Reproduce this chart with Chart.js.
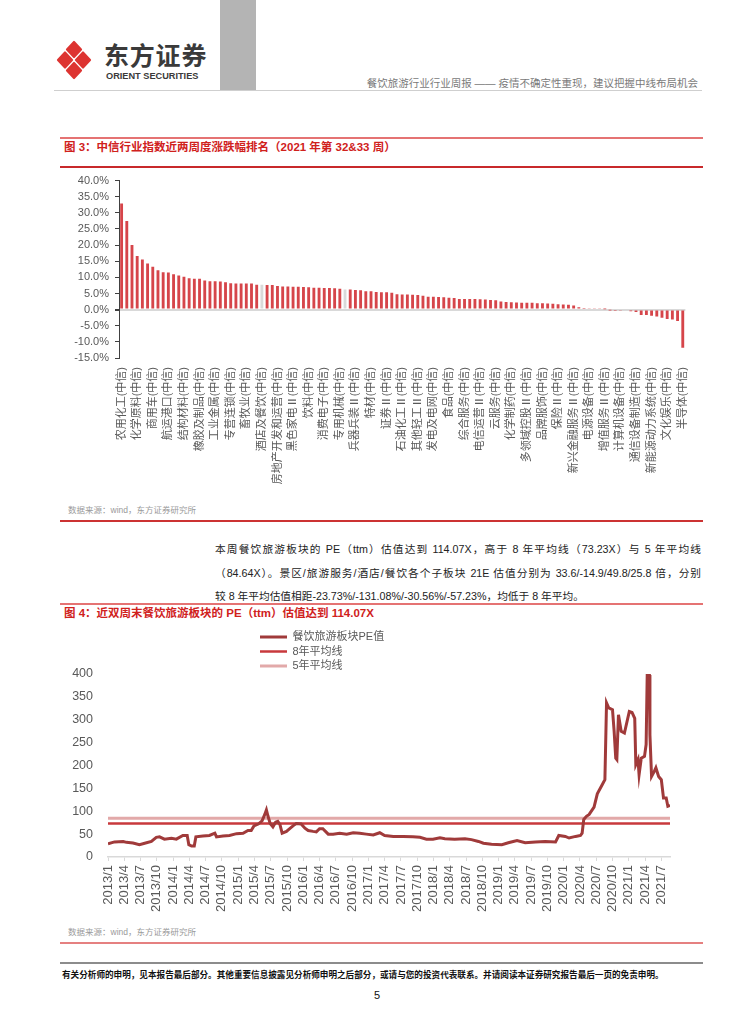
<!DOCTYPE html>
<html lang="zh-CN">
<head>
<meta charset="utf-8">
<title>餐饮旅游行业行业周报</title>
<script src="https://cdn.jsdelivr.net/npm/chart.js@4.4.1/dist/chart.umd.min.js"></script>
<style>
  html, body { margin: 0; padding: 0; background: #fff; }
  body { width: 754px; height: 1024px; position: relative; overflow: hidden;
         font-family: "Liberation Sans", "Noto Sans CJK SC", sans-serif; color: #222; }
  .abs { position: absolute; }
  .rule { position: absolute; left: 60px; width: 643px; }
  .title { position: absolute; left: 64px; font-size: 11.5px; font-weight: bold; color: #D0211C;
           white-space: nowrap; line-height: 16px; }
  .src { position: absolute; left: 68px; font-size: 8.5px; color: #9a9a9a; white-space: nowrap; line-height: 12px; }
  .para { position: absolute; left: 215px; top: 538px; width: 486px; font-size: 10.7px; line-height: 23.5px; color: #222; }
  .para div { text-align: justify; text-align-last: justify; }
  .para div.last { text-align-last: left; }
</style>
</head>
<body>

<!-- header -->
<svg class="abs" style="left:55px;top:39px" width="38" height="42" viewBox="0 0 38 42">
  <g fill="#DD3431" stroke="#DD3431" stroke-width="2.2" stroke-linejoin="round">
    <path d="M19 3 L26 10.5 L19 18 L12 10.5 Z"/>
    <path d="M28 13.5 L35 21 L28 28.5 L21 21 Z"/>
    <path d="M19 24 L26 31.5 L19 39 L12 31.5 Z"/>
    <path d="M10 13.5 L17 21 L10 28.5 L3 21 Z"/>
  </g>
</svg>
<div class="abs" style="left:104px;top:41px;font-size:25px;font-weight:bold;color:#3a3a3a;letter-spacing:0.8px;line-height:30px;white-space:nowrap">东方证券</div>
<div class="abs" style="left:106px;top:70px;font-size:9.2px;font-weight:bold;color:#3a3a3a;line-height:12px;white-space:nowrap">ORIENT SECURITIES</div>
<div class="abs" style="left:220px;top:0;width:36px;height:90px;background:#B4B4B4"></div>
<div class="abs" style="right:56px;top:76px;font-size:10.5px;color:#7a7a7a;line-height:14px;white-space:nowrap">餐饮旅游行业行业周报 —— 疫情不确定性重现，建议把握中线布局机会</div>
<div class="abs" style="left:54px;top:90px;width:648px;height:1px;background:#cfcfcf"></div>

<!-- figure 3 -->
<div class="rule" style="top:137px;height:1.5px;background:#E57373"></div>
<div class="title" style="top:139px">图 3：中信行业指数近两周度涨跌幅排名（2021 年第 32&amp;33 周）</div>
<div class="rule" style="top:166px;height:1.5px;background:#C8292B"></div>
<canvas id="rankChart" class="abs" style="left:60px;top:168px" width="645" height="335"></canvas>
<div class="src" style="top:504px">数据来源：wind，东方证券研究所</div>
<div class="rule" style="top:520px;height:1.5px;background:#CC3333"></div>

<div class="para">
  <div>本周餐饮旅游板块的 PE（ttm）估值达到 114.07X，高于 8 年平均线（73.23X）与 5 年平均线</div>
  <div>（84.64X）。景区/旅游服务/酒店/餐饮各个子板块 21E 估值分别为 33.6/-14.9/49.8/25.8 倍，分别</div>
  <div class="last">较 8 年平均估值相距-23.73%/-131.08%/-30.56%/-57.23%，均低于 8 年平均。</div>
</div>

<!-- figure 4 -->
<div class="rule" style="top:603px;height:1.5px;background:#E57373"></div>
<div class="title" style="top:605px">图 4：近双周末餐饮旅游板块的 PE（ttm）估值达到 114.07X</div>
<canvas id="peChart" class="abs" style="left:60px;top:625px" width="645" height="300"></canvas>
<div class="src" style="top:926px">数据来源：wind，东方证券研究所</div>
<div class="rule" style="top:942px;height:1.5px;background:#E58080"></div>

<!-- footer -->
<div class="abs" style="left:60px;top:962px;width:643px;height:2px;background:#8c8c8c"></div>
<div class="abs" style="left:62px;top:969px;font-size:8.6px;font-weight:bold;color:#111;line-height:12px;white-space:nowrap">有关分析师的申明，见本报告最后部分。其他重要信息披露见分析师申明之后部分，或请与您的投资代表联系。并请阅读本证券研究报告最后一页的免责申明。</div>
<div class="abs" style="left:374px;top:988px;font-size:11px;color:#111;line-height:14px">5</div>

<script>
// ---- figure 3: weekly change by CITIC industry ----
const industries = [
  "农用化工(中信)", "化学纤维(中信)", "其他化学制品Ⅱ(中信)", "化学原料(中信)", "建筑装修Ⅱ(中信)", "普钢(中信)",
  "商用车(中信)", "乘用车(中信)", "汽车零部件Ⅱ(中信)", "航运港口(中信)", "公路铁路(中信)", "物流(中信)",
  "结构材料(中信)", "装饰材料(中信)", "塑料及制品(中信)", "橡胶及制品(中信)", "贵金属(中信)", "稀有金属(中信)",
  "工业金属(中信)", "一般零售(中信)", "专业市场经营Ⅱ(中信)", "专营连锁(中信)", "种植业(中信)", "林业(中信)",
  "畜牧业(中信)", "渔业(中信)", "农产品加工(中信)", "酒店及餐饮(中信)", "饲料(中信)", "房屋建设Ⅱ(中信)",
  "房地产开发和运营(中信)", "房地产服务(中信)", "白色家电Ⅱ(中信)", "黑色家电Ⅱ(中信)", "小家电Ⅱ(中信)", "厨房电器Ⅱ(中信)",
  "饮料(中信)", "酒类(中信)", "光学光电(中信)", "消费电子(中信)", "其他电子零组件Ⅱ(中信)", "通用设备(中信)",
  "专用机械(中信)", "旅游及休闲(中信)", "工程机械(中信)", "兵器兵装Ⅱ(中信)", "航空航天(中信)", "仪器仪表(中信)",
  "特材(中信)", "煤炭开采洗选(中信)", "煤炭化工(中信)", "证券Ⅱ(中信)", "油服工程(中信)", "石油开采Ⅱ(中信)",
  "石油化工Ⅱ(中信)", "造纸(中信)", "包装印刷(中信)", "其他轻工Ⅱ(中信)", "家居(中信)", "纺织制造(中信)",
  "发电及电网(中信)", "环保及公用事业(中信)", "燃气Ⅱ(中信)", "食品(中信)", "航空机场(中信)", "贸易Ⅱ(中信)",
  "综合服务(中信)", "教育(中信)", "水务(中信)", "电信运营Ⅱ(中信)", "广告营销(中信)", "出版(中信)",
  "云服务(中信)", "计算机软件(中信)", "中药生产(中信)", "化学制药(中信)", "生物医药Ⅱ(中信)", "医疗器械(中信)",
  "多领域控股Ⅱ(中信)", "医疗服务(中信)", "医药流通(中信)", "品牌服饰(中信)", "服装家纺(中信)", "银行Ⅱ(中信)",
  "保险Ⅱ(中信)", "股份制银行(中信)", "城商行(中信)", "新兴金融服务Ⅱ(中信)", "军工电子Ⅱ(中信)", "电气设备(中信)",
  "电源设备(中信)", "电机(中信)", "IT服务(中信)", "增值服务Ⅱ(中信)", "航空运输(中信)", "光伏(中信)",
  "计算机设备(中信)", "风电(中信)", "电子元器件(中信)", "通信设备制造(中信)", "锂电(中信)", "工控设备(中信)",
  "新能源动力系统(中信)", "影视(中信)", "游戏(中信)", "文化娱乐(中信)", "互联网媒体(中信)", "集成电路(中信)",
  "半导体(中信)"
];

const weeklyChange = [
  32.9, 27.5, 20.0, 16.6, 15.5, 14.3, 13.3, 12.2, 11.6, 11.5, 11.0, 10.6, 10.2, 9.7, 9.6, 9.6,
  9.0, 8.8, 8.8, 8.7, 8.5, 8.2, 8.1, 8.1, 8.1, 8.1, 7.7, 7.7, 7.6, 7.6, 7.3, 7.2,
  7.2, 7.1, 7.1, 7.0, 6.9, 6.8, 6.8, 6.7, 6.7, 6.6, 6.5, 6.2, 6.2, 6.1, 6.0, 5.7,
  5.7, 5.5, 5.4, 5.4, 5.2, 4.8, 4.7, 4.7, 4.6, 4.5, 4.3, 4.0, 4.0, 3.9, 3.8, 3.7,
  3.6, 3.3, 3.3, 3.3, 3.3, 3.2, 3.1, 3.0, 2.9, 2.5, 2.4, 2.3, 2.2, 2.1, 2.1, 2.1,
  2.0, 2.0, 1.9, 1.8, 1.7, 1.6, 1.5, 1.3, 0.7, 0.5, 0.4, 0.4, 0.3, 0.1, -0.05, -0.1,
  -0.2, -0.3, -0.5, -0.7, -1.7, -1.7, -1.9, -2.1, -2.5, -2.9, -3.1, -3.5, -11.8
];

const highlighted = ["酒店及餐饮(中信)", "旅游及休闲(中信)"];
const pctTicks = [-15, -10, -5, 0, 5, 10, 15, 20, 25, 30, 35, 40];

Chart.defaults.font.family = '"Liberation Sans", "Noto Sans CJK SC", sans-serif';
Chart.defaults.color = "#595959";

new Chart(document.getElementById("rankChart").getContext("2d"), {
  type: "bar",
  data: {
    labels: industries,
    datasets: [
      {
        data: weeklyChange,
        backgroundColor: industries.map((n) => (highlighted.includes(n) ? "#D9D9D9" : "#D6454A")),
        barPercentage: 0.55,
        categoryPercentage: 1,
      },
    ],
  },
  options: {
    responsive: false,
    animation: false,
    layout: { padding: { top: 9, right: 8, left: 0, bottom: 0 } },
    plugins: { legend: { display: false }, tooltip: { enabled: false } },
    scales: {
      x: {
        grid: { display: false, drawTicks: false },
        border: { display: false },
        ticks: {
          autoSkip: false,
          minRotation: 90,
          maxRotation: 90,
          padding: 9,
          font: { size: 11 },
          callback: (v, i) => (i % 3 === 0 ? industries[i] : ""),
        },
        afterFit: (s) => { s.height = 145; },
      },
      y: {
        min: pctTicks[0],
        max: pctTicks[pctTicks.length - 1],
        border: { color: "#404040", width: 1 },
        grid: {
          drawTicks: true,
          tickLength: 4,
          tickColor: "#404040",
          color: (c) => (c.tick && c.tick.value === 0 ? "#D9D9D9" : "rgba(0,0,0,0)"),
          lineWidth: (c) => (c.tick && c.tick.value === 0 ? 2 : 1),
        },
        ticks: {
          stepSize: 5,
          autoSkip: false,
          padding: 6,
          font: { size: 11 },
          callback: (v) => v.toFixed(1) + "%",
        },
        afterFit: (s) => { s.width = 59; },
      },
    },
  },
});

// ---- figure 4: PE(ttm) of the catering & tourism sector ----
// months counted from 2013/1
const peMonth = [
  0, 1.2, 2.8, 3.4, 4.6, 5.8, 7.1, 8.0, 8.9, 9.5, 10.4, 11.7, 12.6, 13.8, 14.6, 14.9,
  15.4, 15.9, 16.2, 17.5, 18.7, 19.7, 20.0, 21.2, 22.4, 23.7, 24.9, 25.8, 26.4, 26.9, 27.7, 28.4,
  28.9, 29.2, 29.5, 29.9, 30.4, 30.9, 31.3, 31.7, 32.1, 32.9, 33.5, 34.1, 34.7, 35.6, 36.3, 36.9,
  37.8, 38.4, 39.0, 39.6, 40.6, 41.5, 42.7, 44.0, 45.2, 46.4, 47.6, 48.9, 50.1, 51.0, 52.6, 54.4,
  56.2, 57.5, 58.7, 59.9, 61.2, 62.1, 63.9, 65.8, 67.0, 68.3, 69.2, 70.7, 72.6, 73.8, 75.4, 76.9,
  78.8, 80.6, 82.5, 83.1, 84.3, 85.0, 86.2, 87.1, 87.4, 87.7, 88.2, 88.7, 89.6, 90.2, 91.1, 91.6,
  91.9, 92.3, 93.0, 93.3, 93.6, 93.8, 94.1, 94.6, 95.2, 96.1, 96.6, 97.1, 97.3, 97.7, 97.9, 98.3,
  98.9, 99.2, 99.4, 99.8, 99.9, 100.2, 100.7, 101.0, 101.5, 102.0, 102.4, 102.9, 103.2, 103.6
];
const peValue = [
  29, 33, 34, 32, 30.6, 27, 31, 34, 43, 44, 39, 41, 39, 47, 47, 27,
  24, 24, 44, 46, 47, 52, 44, 46, 47, 51, 52, 58, 58, 68, 72, 79,
  93, 103, 89, 73, 66, 76, 78, 71, 52, 56, 62, 68, 73, 72, 63, 58,
  56, 55, 62, 62, 50, 50, 52, 50, 53, 52, 50, 48, 53, 47, 45, 45,
  44, 43, 39, 39, 42, 40, 39, 40, 38, 34, 30, 28, 27, 31, 36, 31,
  33, 34, 33, 47, 45, 41.5, 45, 47, 52, 82, 89, 93, 109, 138, 158, 169,
  337, 326, 322, 275, 216, 213, 311, 275, 271, 318, 316, 303, 202, 213, 180, 216,
  220, 246, 398, 398, 267, 176, 187, 195, 176, 169, 129, 129, 111, 113
];
const avg8 = 73.23;
const avg5 = 84.64;
const lastMonth = 103.6;
const quarterLabels = [
  "2013/1", "2013/4", "2013/7", "2013/10", "2014/1", "2014/4", "2014/7", "2014/10",
  "2015/1", "2015/4", "2015/7", "2015/10", "2016/1", "2016/4", "2016/7", "2016/10",
  "2017/1", "2017/4", "2017/7", "2017/10", "2018/1", "2018/4", "2018/7", "2018/10",
  "2019/1", "2019/4", "2019/7", "2019/10", "2020/1", "2020/4", "2020/7", "2020/10",
  "2021/1", "2021/4", "2021/7"
];

// stack legend rows under each other, at a fixed spot above the plot
const stackedLegend = {
  id: "stackedLegend",
  afterInit(chart, args, opts) {
    const lg = chart.legend;
    const fit = lg.fit;
    lg.fit = function () {
      const w = this.maxWidth;
      this.maxWidth = opts.width;
      fit.call(this);
      this.maxWidth = w;
      this.height = opts.height;
    };
  },
  afterLayout(chart, args, opts) {
    const lg = chart.legend;
    lg.left = opts.left;
    lg.right = opts.left + opts.width;
    lg.width = opts.width;
  },
};

new Chart(document.getElementById("peChart").getContext("2d"), {
  type: "line",
  data: {
    datasets: [
      {
        label: "餐饮旅游板块PE值",
        data: peMonth.map((m, i) => ({ x: m, y: peValue[i] })),
        borderColor: "#A03A3A",
        backgroundColor: "#A03A3A",
        borderWidth: 3,
      },
      {
        label: "8年平均线",
        data: [{ x: 0, y: avg8 }, { x: lastMonth, y: avg8 }],
        borderColor: "#C8393C",
        backgroundColor: "#C8393C",
        borderWidth: 2.5,
      },
      {
        label: "5年平均线",
        data: [{ x: 0, y: avg5 }, { x: lastMonth, y: avg5 }],
        borderColor: "#E2A9A9",
        backgroundColor: "#E2A9A9",
        borderWidth: 3,
      },
    ],
  },
  plugins: [stackedLegend],
  options: {
    responsive: false,
    animation: false,
    layout: { padding: { top: 3, right: 35, left: 0, bottom: 0 } },
    elements: { point: { radius: 0 }, line: { tension: 0 } },
    plugins: {
      tooltip: { enabled: false },
      stackedLegend: { left: 196.5, width: 150, height: 46 },
      legend: {
        position: "top",
        align: "start",
        labels: {
          usePointStyle: true,
          pointStyle: "line",
          pointStyleWidth: 27,
          padding: 3.5,
          color: "#595959",
          font: { size: 11 },
        },
      },
    },
    scales: {
      x: {
        type: "linear",
        min: 0,
        max: lastMonth,
        border: { color: "#D9D9D9", width: 1.5 },
        grid: { display: true, drawOnChartArea: false, drawTicks: true, tickLength: 4, color: "#D9D9D9" },
        ticks: {
          stepSize: 3,
          includeBounds: false,
          autoSkip: false,
          minRotation: 90,
          maxRotation: 90,
          padding: 4,
          font: { size: 13 },
          callback: (v) => quarterLabels[Math.round(v / 3)] ?? "",
        },
        afterFit: (s) => { s.height = 68; },
      },
      y: {
        min: 0,
        max: 400,
        border: { display: false },
        grid: { display: false, drawTicks: false },
        ticks: { stepSize: 50, autoSkip: false, padding: 15, font: { size: 12.5 } },
        afterFit: (s) => { s.width = 48; },
      },
    },
  },
});
</script>
</body>
</html>
